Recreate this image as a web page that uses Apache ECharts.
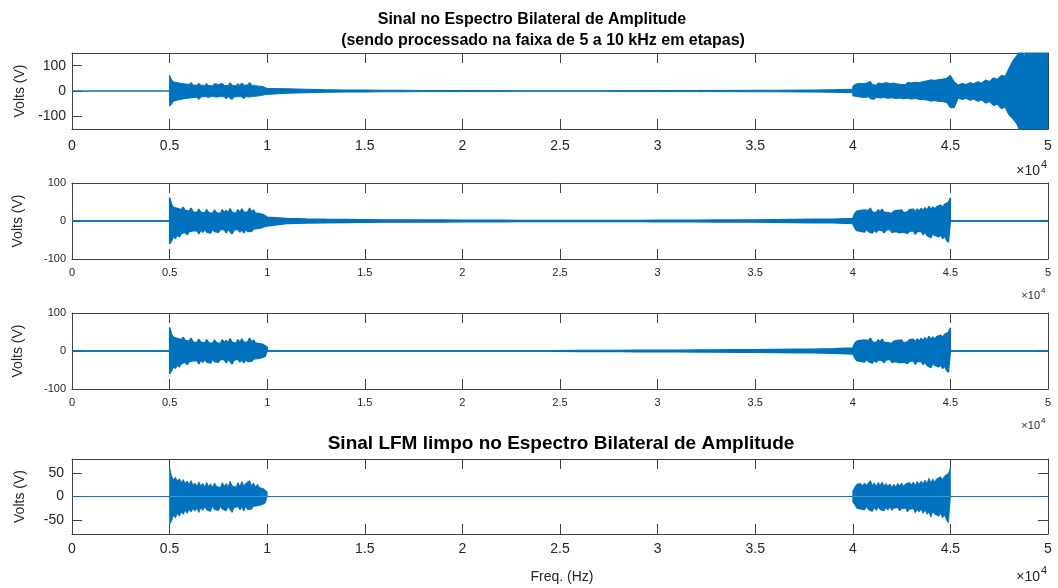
<!DOCTYPE html>
<html><head><meta charset="utf-8">
<script src="https://cdn.jsdelivr.net/npm/echarts@6/dist/echarts.min.js"></script>
<style>html,body{margin:0;padding:0;background:#fff}#c{width:1058px;height:588px}</style>
</head><body><div id="c"></div>
<script>
// ---------- DATA ----------
const xTicksHz = [0,5000,10000,15000,20000,25000,30000,35000,40000,45000,50000];
const yRange = [[-150,150],[-100,100],[-100,100],[-80,80]];
const yTicks = [[-100,0,100],[-100,0,100],[-100,0,100],[-50,0,50]];

// band 5-10 kHz (Hz)
const freqBandA = [5000,5100,5200,5300,5400,5500,5600,5700,5800,5900,6000,6100,6200,6300,6400,6500,6600,6700,6800,6900,7000,7100,7200,7300,7400,7500,7600,7700,7800,7900,8000,8100,8200,8300,8400,8500,8600,8700,8800,8900,9000,9100,9200,9300,9400,9500,9600,9700,9800,9900,10000];
// band 40-45 kHz (mirror side)
const freqBandB = [40000,40100,40200,40300,40400,40500,40600,40700,40800,40900,41000,41100,41200,41300,41400,41500,41600,41700,41800,41900,42000,42100,42200,42300,42400,42500,42600,42700,42800,42900,43000,43100,43200,43300,43400,43500,43600,43700,43800,43900,44000,44100,44200,44300,44400,44500,44600,44700,44800,44900,45000];

// LFM signal envelope (V), upper / lower, 5-10 kHz
const lfmUpperA = [62,44,36,41,33,38,30,36,28,33,26,34,24,29,22,31,23,28,21,30,22,27,20,29,22,26,19,30,22,28,21,33,23,27,20,30,22,32,23,28,24,34,23,29,21,26,19,23,17,15,10];
const lfmLowerA = [-60,-52,-40,-46,-36,-42,-33,-38,-30,-36,-28,-33,-26,-31,-25,-34,-24,-30,-22,-29,-25,-32,-21,-28,-24,-30,-22,-27,-23,-31,-22,-28,-34,-24,-27,-22,-29,-23,-31,-22,-28,-24,-27,-21,-25,-20,-23,-18,-17,-14,-10];
// LFM signal envelope, 40-45 kHz
const lfmUpperB = [12,20,26,22,28,23,29,24,27,34,24,29,22,30,24,31,23,28,22,27,20,26,21,28,23,29,22,27,24,30,25,31,24,32,26,33,27,35,28,39,30,37,31,38,34,42,36,44,40,49,61];
const lfmLowerB = [-12,-18,-25,-21,-27,-23,-29,-22,-28,-25,-32,-24,-30,-23,-28,-25,-31,-24,-29,-22,-30,-25,-28,-24,-31,-26,-29,-25,-33,-27,-30,-26,-35,-28,-33,-27,-36,-29,-38,-33,-44,-32,-38,-34,-42,-36,-46,-39,-50,-56,-60];

// panel 1 (unprocessed) 40-45 kHz envelope
const p1UpperB = [18,26,22,30,24,29,23,31,25,38,26,30,23,32,25,29,24,33,26,30,24,31,25,28,33,26,30,25,34,28,32,27,35,29,33,30,37,31,40,36,44,37,42,39,45,40,47,42,50,48,62];
const p1LowerB = [-19,-25,-22,-29,-24,-30,-26,-28,-23,-31,-27,-33,-25,-30,-28,-34,-26,-31,-29,-35,-27,-32,-30,-36,-28,-33,-31,-37,-29,-34,-32,-38,-30,-36,-33,-40,-34,-38,-36,-42,-40,-44,-38,-43,-41,-46,-42,-48,-45,-52,-66];
// panel 1 tail 45-50 kHz (clipped at +-150)
const freqTail = [45200,45400,45600,45800,46000,46200,46400,46600,46800,47000,47200,47400,47600,47800,48000,48200,48400,48600,48800,49000,49200,49400,49600,49800,50000];
const p1UpperTail = [36,24,30,26,33,29,37,32,43,38,52,46,62,58,90,120,140,170,138,180,260,300,320,350,380];
const p1LowerTail = [-66,-28,-34,-29,-37,-32,-41,-36,-48,-42,-58,-52,-70,-64,-95,-110,-130,-165,-175,-210,-260,-300,-330,-360,-400];

// residual half-width between the bands (V), 10-40 kHz
const freqResid = [10000,11000,12000,13000,14000,15000,16000,17000,18000,19000,20000,21000,22000,23000,24000,25000,26000,27000,28000,29000,30000,31000,32000,33000,34000,35000,36000,37000,38000,39000,40000];
const p1Resid = [12,9,7,5,4,4,3,3,2,2,2,1.5,1.5,1,1,1,1,1,1.5,1.5,2,2,2,2.5,2.5,3,3,3.5,4,5,7];
const p2Resid = [10,7,5.5,4.5,4,3.5,3,3,2.5,2.5,2,2,2,1.5,1.5,1.5,1.5,1.5,1.5,1.5,2,2,2,2.5,2.5,3,3.5,4,4.5,5,7];
const p3Resid = [0,0,0,0,0,0,0,0,0,0,0,0,0,0,0,1,1.5,1.5,1.5,2,2,2,2.5,3,3.5,3.5,4,4.5,5,6,8];

// ---------- BUILD ----------
const C = '#0072BD';
const pairs = (f, v, s) => f.map((x, i) => [x, (s || 1) * v[i]]);

function build(upA, loA, resid, upB, loB, tailUp, tailLo) {
  const mk = (a, b, sign, tail) => {
    let d = [[0,0],[5000,0]].concat(pairs(freqBandA, a));
    if (resid) d = d.concat(pairs(freqResid, resid, sign));
    else d = d.concat([[10000,0],[40000,0]]);
    d = d.concat(pairs(freqBandB, b));
    if (tail) d = d.concat(pairs(freqTail, tail));
    else d = d.concat([[45000,0],[50000,0]]);
    return d;
  };
  return [mk(upA, upB, 1, tailUp), mk(loA, loB, -1, tailLo)];
}
const panels = [
  build(lfmUpperA, lfmLowerA, p1Resid, p1UpperB, p1LowerB, p1UpperTail, p1LowerTail),
  build(lfmUpperA, lfmLowerA, p2Resid, lfmUpperB, lfmLowerB),
  build(lfmUpperA, lfmLowerA, p3Resid, lfmUpperB, lfmLowerB),
  build(lfmUpperA, lfmLowerA, null, lfmUpperB, lfmLowerB)
];

const gridTops = [53, 183, 313, 459];
const gridHeights = [76, 76, 76, 75];
const fontSizes = [14, 11, 11, 14];
const lineWidths = [1, 1.4, 1.4, 0.8];
const xMargins = [10, 8, 8, 8];
const yMargins = [6, 6, 6, 8];
const FONT = '"Liberation Sans", Arial, Helvetica, sans-serif';
const AX = '#404040';
const TXT = '#262626';

const grid = [], xAxis = [], yAxis = [], series = [];
for (let i = 0; i < 4; i++) {
  grid.push({left: 72, right: 10, top: gridTops[i], height: gridHeights[i]});
  const axLine = {show: true, onZero: false, lineStyle: {color: AX, width: 1}};
  const tick = {show: true, inside: true, length: 10, lineStyle: {color: AX, width: 1}};
  xAxis.push({type: 'value', gridIndex: i, position: 'bottom', min: xTicksHz[0], max: xTicksHz[xTicksHz.length-1], interval: 5000,
    axisLine: axLine, axisTick: tick, splitLine: {show: false},
    axisLabel: {show: true, color: TXT, fontSize: fontSizes[i], fontFamily: FONT, margin: xMargins[i],
      formatter: v => String(v / 10000)}});
  xAxis.push({type: 'value', gridIndex: i, position: 'top', min: xTicksHz[0], max: xTicksHz[xTicksHz.length-1], interval: 5000,
    axisLine: axLine, axisTick: tick, splitLine: {show: false}, axisLabel: {show: false}});
  yAxis.push({type: 'value', gridIndex: i, position: 'left', min: yRange[i][0], max: yRange[i][1],
    axisLine: axLine, axisTick: Object.assign({}, tick, {customValues: yTicks[i]}), splitLine: {show: false},
    axisLabel: {show: true, customValues: yTicks[i], color: TXT, fontSize: fontSizes[i], fontFamily: FONT, margin: yMargins[i]}});
  yAxis.push({type: 'value', gridIndex: i, position: 'right', min: yRange[i][0], max: yRange[i][1],
    axisLine: axLine, axisTick: Object.assign({}, tick, {customValues: yTicks[i]}), splitLine: {show: false},
    axisLabel: {show: false}});
  for (let k = 0; k < 2; k++) {
    series.push({type: 'line', xAxisIndex: 2*i, yAxisIndex: 2*i, data: panels[i][k], showSymbol: false, symbol: 'none',
      clip: true, silent: true, animation: false,
      lineStyle: {color: C, width: lineWidths[i]},
      areaStyle: {color: C, opacity: 1, origin: 0}, z: 3});
  }
}

const graphic = [];
const txt = (x, y, text, font, extra) => graphic.push(Object.assign({type: 'text', x, y, silent: true,
  style: {text, font, fill: extra && extra.fill || '#000', align: (extra && extra.align) || 'center', verticalAlign: 'middle'}},
  extra && extra.rotation ? {rotation: extra.rotation} : {}));
txt(532, 19.5, 'Sinal no Espectro Bilateral de Amplitude', 'bold 16px ' + FONT);
txt(543, 41, '(sendo processado na faixa de 5 a 10 kHz em etapas)', 'bold 16px ' + FONT);
txt(561, 444, 'Sinal LFM limpo no Espectro Bilateral de Amplitude', 'bold 19px ' + FONT);
txt(562, 577, 'Freq. (Hz)', '14px ' + FONT, {fill: TXT});
const voltsX = [20, 18, 18, 20];
for (let i = 0; i < 4; i++) {
  const cy = gridTops[i] + gridHeights[i] / 2;
  txt(voltsX[i], cy, 'Volts (V)', '14px ' + FONT, {fill: TXT, rotation: Math.PI / 2});
}
const expY = [171, 296, 426, 577];
for (let i = 0; i < 4; i++) {
  const fs = fontSizes[i];
  txt(1040, expY[i], '\u00d710', fs + 'px ' + FONT, {fill: TXT, align: 'right'});
  txt(1041, expY[i] - fs * 0.45, '4', Math.round(fs * 0.75) + 'px ' + FONT, {fill: TXT, align: 'left'});
}

const chart = echarts.init(document.getElementById('c'), null, {renderer: 'canvas'});
chart.setOption({animation: false, backgroundColor: '#fff', grid, xAxis, yAxis, series, graphic});
</script></body></html>
